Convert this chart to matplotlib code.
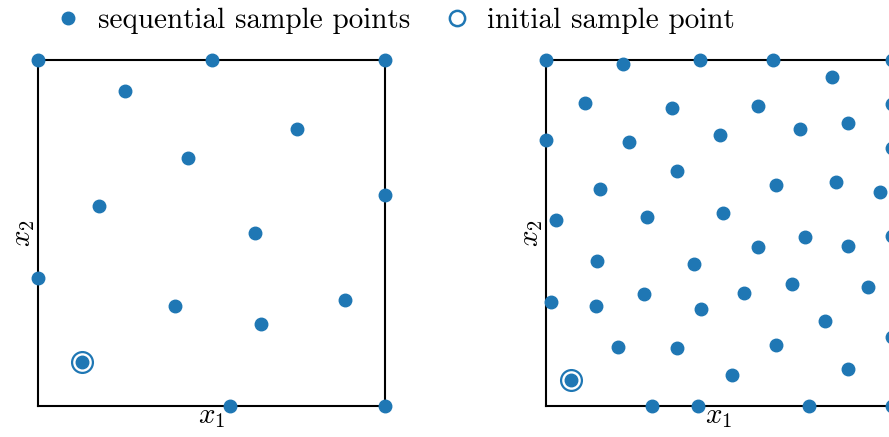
import matplotlib
matplotlib.use("Agg")
import matplotlib.pyplot as plt
from matplotlib.lines import Line2D

plt.rcParams['font.family'] = 'serif'
plt.rcParams['font.serif'] = ['cmr10', 'DejaVu Serif']
plt.rcParams['mathtext.fontset'] = 'cm'
plt.rcParams['axes.formatter.use_mathtext'] = True

# sequential design, few points
seq1_x1 = [0.0, 0.5, 1.0, 0.251, 0.747, 0.431, 1.0, 0.177, 0.624, 0.0, 0.885, 0.396, 0.642, 0.553, 1.0]
seq1_x2 = [1.0, 1.0, 1.0, 0.910, 0.801, 0.717, 0.610, 0.579, 0.500, 0.369, 0.305, 0.288, 0.238, 0.0, 0.0]
init1 = (0.126, 0.126)

# sequential design, many points
seq2_x1 = [0.0, 0.222, 0.444, 0.657, 1.0, 0.827, 0.112, 0.365, 0.614, 1.0,
           0.873, 0.735, 0.503, 0.0, 0.241, 1.0, 0.380, 0.157, 0.665, 0.838,
           0.965, 0.028, 0.291, 0.512, 1.0, 0.748, 0.612, 0.872, 0.148, 0.427,
           0.711, 0.930, 0.283, 0.573, 0.014, 0.145, 0.448, 0.805, 1.0, 0.207,
           0.378, 0.666, 0.872, 0.538, 0.307, 0.439, 0.759, 1.0]
seq2_x2 = [1.0, 0.988, 1.0, 1.0, 1.0, 0.951, 0.877, 0.860, 0.868, 0.873,
           0.819, 0.801, 0.782, 0.768, 0.762, 0.745, 0.679, 0.628, 0.640, 0.648,
           0.618, 0.537, 0.545, 0.559, 0.490, 0.487, 0.460, 0.461, 0.420, 0.411,
           0.352, 0.345, 0.323, 0.326, 0.302, 0.288, 0.281, 0.246, 0.199, 0.171,
           0.169, 0.175, 0.106, 0.089, 0.0, 0.0, 0.0, 0.0]
init2 = (0.071, 0.074)

blue = '#1f77b4'
W, H = 889, 437

fig = plt.figure(figsize=(W / 100, H / 100), dpi=100)
ax1 = fig.add_axes([38 / W, (H - 406) / H, 347 / W, 346 / H])
ax2 = fig.add_axes([546 / W, (H - 406) / H, 346 / W, 346 / H])

for ax, xs, ys, init in [(ax1, seq1_x1, seq1_x2, init1), (ax2, seq2_x1, seq2_x2, init2)]:
    ax.plot(xs, ys, 'o', color=blue, ms=9, clip_on=False, zorder=3)
    ax.plot(init[0], init[1], 'o', color=blue, ms=9, clip_on=False, zorder=3)
    ax.plot(init[0], init[1], 'o', mfc='none', mec=blue, ms=15, mew=1.6,
            clip_on=False, zorder=3)
    ax.set_xlim(0, 1)
    ax.set_ylim(0, 1)
    ax.set_xticks([])
    ax.set_yticks([])
    for s in ax.spines.values():
        s.set_linewidth(1.5)
        s.set_color('black')
    ax.set_xlabel(r'$x_1$', fontsize=21, labelpad=-2)
    ax.set_ylabel(r'$x_2$', fontsize=21, labelpad=1)

handles = [
    Line2D([], [], ls='none', marker='o', color=blue, ms=9),
    Line2D([], [], ls='none', marker='o', mfc='none', mec=blue, ms=11, mew=1.8),
]
fig.legend(handles, ['sequential sample points', 'initial sample point'],
           loc='center', bbox_to_anchor=(394 / W, 1 - 21 / H), ncol=2,
           frameon=False, fontsize=21, handlelength=1.0, handletextpad=0.55,
           columnspacing=1.08)

fig.savefig('out.png', dpi=100)
